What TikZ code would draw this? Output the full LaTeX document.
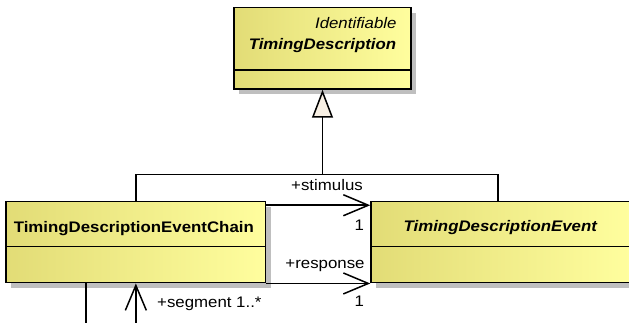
\documentclass[tikz,border=0pt]{standalone}
\usepackage{fontspec}
\setmainfont{Liberation Sans}[FakeStretch=1.1]
\usetikzlibrary{calc,arrows.meta,shadows}
\definecolor{clsdark}{RGB}{226,220,118}
\definecolor{clslight}{RGB}{255,254,158}
\definecolor{trifill}{RGB}{248,240,228}
\begin{document}
\begin{tikzpicture}[
    x=1pt, y=-1pt,
    font=\fontsize{15.3}{18}\selectfont,
    cls/.style={rectangle, draw=black, line width=1.5pt, left color=clsdark, right color=clslight, inner sep=0pt,
      drop shadow={shadow xshift=5pt, shadow yshift=-5pt, fill=black!25, opacity=1}},
    txt/.style={inner sep=0pt},
    sep/.style={line width=1.5pt},
    assoc/.style={line width=1.5pt, -{Straight Barb[length=25pt, width=21pt]}},
    gen/.style={line width=1.5pt, -{Triangle[length=28pt, width=21pt, fill=trifill]}}
  ]
    \clip (0,0) rectangle (629,323);

    \node[cls, minimum width=177pt, minimum height=81.3pt] (desc) at (322.5,48.35) {};
    \node[cls, minimum width=259.7pt, minimum height=81pt] (chain) at (135.85,242.2) {};
    \node[cls, minimum width=259.7pt, minimum height=81pt] (event) at (500.85,242.2) {};

    \draw[sep] ([yshift=-63.3pt]desc.north west) -- ([yshift=-63.3pt]desc.north east);
    \draw[sep] ([yshift=-45.6pt]chain.north west) -- ([yshift=-45.6pt]chain.north east);
    \draw[sep] ([yshift=-45.6pt]event.north west) -- ([yshift=-45.6pt]event.north east);

    \node[txt, anchor=base east] (stereo) at (396.7,29) {\itshape Identifiable};
    \node[txt, anchor=base] (descname) at (322.5,50) {\bfseries\itshape TimingDescription};
    \node[txt, anchor=base] (chainname) at (133.8,232.7) {\bfseries TimingDescriptionEventChain};
    \node[txt, anchor=base] (eventname) at (500.3,231.7) {\bfseries\itshape TimingDescriptionEvent};

    \coordinate (joint) at (322.5,174.5);
    \draw[gen] (joint) -- (desc.south);
    \draw[sep] (chain.north) |- (joint) -| ([xshift=-2.8pt]event.north);

    \draw[assoc] ([yshift=-4.3pt]chain.north east) -- ([yshift=-4.3pt]event.north west);
    \draw[assoc] (chain.south east) -- (event.south west);
    \draw[assoc] ([xshift=-49.85pt]chain.south) -- ++(0,39.8) -| (chain.south);

    \node[txt, anchor=base] (stim) at (327,190.7) {+stimulus};
    \node[txt, anchor=base] (stimmult) at (359.3,230) {1};
    \node[txt, anchor=base] (resp) at (325,268.3) {+response};
    \node[txt, anchor=base] (respmult) at (359.3,306.7) {1};
    \node[txt, anchor=base west] (seg) at (157,307.3) {+segment 1..*};
  \end{tikzpicture}
\end{document}
